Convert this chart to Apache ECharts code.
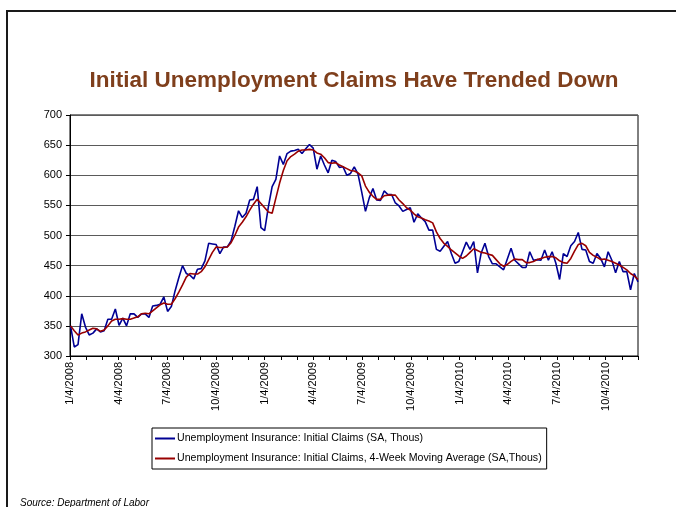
<!DOCTYPE html>
<html><head><meta charset="utf-8">
<script src="https://cdn.jsdelivr.net/npm/echarts@6/dist/echarts.min.js"></script>
<style>html,body{margin:0;padding:0;background:#fff}#c{width:676px;height:507px}</style>
</head><body><div id="c"></div>
<script>
// Tick labels (monthly ticks, label every third month)
const monthLabels = [
 '1/4/2008','2/4/2008','3/4/2008','4/4/2008','5/4/2008','6/4/2008','7/4/2008','8/4/2008','9/4/2008','10/4/2008','11/4/2008','12/4/2008',
 '1/4/2009','2/4/2009','3/4/2009','4/4/2009','5/4/2009','6/4/2009','7/4/2009','8/4/2009','9/4/2009','10/4/2009','11/4/2009','12/4/2009',
 '1/4/2010','2/4/2010','3/4/2010','4/4/2010','5/4/2010','6/4/2010','7/4/2010','8/4/2010','9/4/2010','10/4/2010','11/4/2010','12/4/2010'
];
const firstWeekEnding = [2008, 0, 5];   // week ending 1/5/2008, weekly thereafter
const axisStart = [2008, 0, 4];
const axisEnd = [2010, 11, 4];

// Initial claims (SA, thousands), weekly
const claims = [
 350,315,319,370,348,335,338,345,340,342,
 361,361,378,351,363,350,370,370,364,370,
 370,364,383,384,386,398,374,382,408,430,
 450,437,434,428,444,445,458,487,486,485,
 470,481,481,491,515,541,530,537,559,560,
 581,513,508,548,581,593,632,618,636,640,
 641,643,636,644,651,645,610,632,617,604,
 625,623,613,614,600,603,614,602,572,540,
 562,578,559,558,574,568,568,554,549,540,
 543,546,522,536,529,523,509,509,477,474,
 482,490,470,454,457,473,489,477,490,438,
 471,487,465,453,453,448,443,461,479,459,
 453,447,447,473,459,460,459,476,459,473,
 454,427,470,465,483,490,505,477,476,457,
 454,470,462,448,473,459,438,457,440,440,
 410,437,423
];
// 4-week moving average (SA, thousands), weekly
const movingAvg = [
 350,342,335,338,340,343,346,345,341,343,
 350,358,361,361,362,361,361,363,365,370,
 371,370,375,380,385,388,386,386,395,406,
 418,431,437,436,436,440,448,460,472,481,
 480,480,481,488,500,514,522,531,542,552,
 560,553,546,539,537,562,587,608,624,631,
 635,640,642,642,643,642,637,635,629,621,
 620,621,617,614,611,608,607,604,599,582,
 572,565,560,560,566,567,567,567,559,553,
 546,542,536,531,529,526,524,521,506,495,
 487,482,476,471,466,462,466,472,478,475,
 472,471,469,467,460,453,449,452,457,461,
 460,460,455,455,457,460,462,464,465,465,
 463,458,455,454,462,474,485,487,483,472,
 467,464,460,461,459,457,454,451,447,443,
 437,433,427
];
const seriesNames = [
 'Unemployment Insurance: Initial Claims (SA, Thous)',
 'Unemployment Insurance: Initial Claims, 4-Week Moving Average (SA,Thous)'
];

function weekTime(i){ return new Date(firstWeekEnding[0], firstWeekEnding[1], firstWeekEnding[2] + 7*i).getTime(); }
const claimsData = claims.map((v,i)=>[weekTime(i), v]);
const avgData = movingAvg.map((v,i)=>[weekTime(i), v]);

const FONT = "'Liberation Sans', Arial, sans-serif";
const chart = echarts.init(document.getElementById('c'), null, {renderer:'canvas'});
chart.setOption({
  animation: false,
  backgroundColor: '#fff',
  textStyle: {fontFamily: FONT, color:'#000'},
  title: {
    text: 'Initial Unemployment Claims Have Trended Down',
    left: 349, textAlign: 'center', top: 64,
    textStyle: {fontFamily: FONT, fontSize: 22.5, fontWeight: 'bold', color: '#7F3F1C'}
  },
  grid: {left: 70, right: 38, top: 115, bottom: 151, show: true, borderColor: '#000', borderWidth: 1, outerBoundsMode: 'none', containLabel: false},
  legend: {
    orient: 'vertical', left: 152, top: 428,
    data: seriesNames,
    icon: 'path://M0,0H20V2H0Z', symbolKeepAspect: true,
    itemWidth: 20, itemHeight: 10, itemGap: 9,
    padding: [5, 5, 5, 3],
    borderColor: '#000', borderWidth: 1,
    textStyle: {fontFamily: FONT, fontSize: 10.6, color: '#000', padding: [0,0,0,-3]}
  },
  xAxis: [
    {
      type: 'category', data: monthLabels, boundaryGap: false,
      axisLine: {show: true, lineStyle: {color: '#000', width: 1}},
      axisTick: {show: true, inside: false, length: 4, interval: 0, lineStyle: {color:'#000'}},
      axisLabel: {interval: 2, rotate: 90, margin: 6, fontSize: 11, fontFamily: FONT, color: '#000'},
      splitLine: {show: false}
    },
    {
      type: 'time', show: false,
      min: new Date(axisStart[0], axisStart[1], axisStart[2]).getTime(),
      max: new Date(axisEnd[0], axisEnd[1], axisEnd[2]).getTime(),
      splitLine: {show: false}
    }
  ],
  yAxis: {
    type: 'value', min: 300, max: 700, interval: 50,
    axisLine: {show: true, lineStyle: {color: '#000', width: 1}},
    axisTick: {show: true, inside: false, length: 4, lineStyle: {color:'#000'}},
    axisLabel: {fontSize: 11, fontFamily: FONT, color: '#000', margin: 8},
    splitLine: {show: true, lineStyle: {color: '#5a5a5a', width: 1}}
  },
  series: [
    {name: seriesNames[0], type: 'line', xAxisIndex: 1, data: claimsData, symbol: 'none', showSymbol: false,
     lineStyle: {color: '#000094', width: 1.6}, itemStyle: {color: '#000094'}},
    {name: seriesNames[1], type: 'line', xAxisIndex: 1, data: avgData, symbol: 'none', showSymbol: false,
     lineStyle: {color: '#990000', width: 1.6}, itemStyle: {color: '#990000'}}
  ],
  graphic: [
    {type: 'rect', shape: {x: 7, y: 11, width: 720, height: 540}, style: {fill: null, stroke: '#1a1a1a', lineWidth: 2}, silent: true},
    {type: 'text', left: 20, top: 498, style: {text: 'Source: Department of Labor', font: 'italic 10px ' + FONT, fill: '#000'}}
  ]
});
</script>
</body></html>
